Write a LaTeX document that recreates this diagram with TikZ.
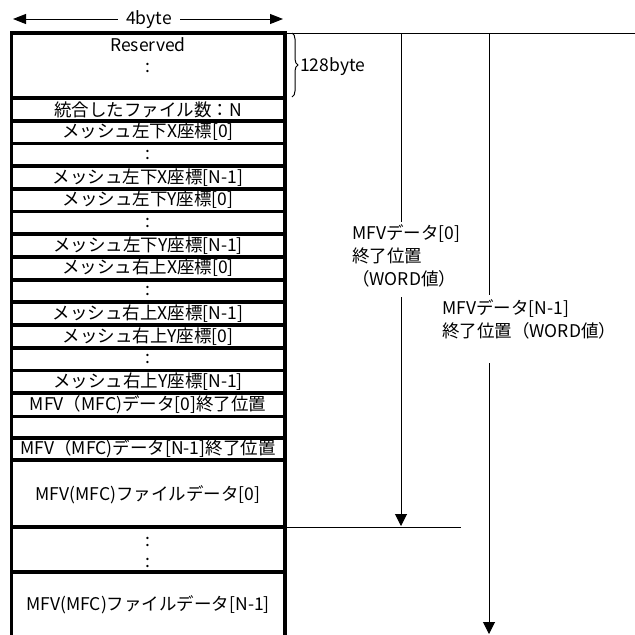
\documentclass[tikz,border=0pt]{standalone}
\usepackage{fontspec}
\setmainfont{Noto Sans CJK JP}
\usetikzlibrary{arrows.meta,decorations.pathreplacing}
\begin{document}
\begin{tikzpicture}[x=1pt,y=-1pt,
  frame/.style={line width=3.8pt},
  thinline/.style={line width=1pt},
  cell/.style={inner sep=0pt, font=\fontsize{17.5}{20}\selectfont},
  lab/.style={inner sep=0pt, align=left, anchor=west, font=\fontsize{17.5}{23}\selectfont},
  tip/.style={-{Triangle[length=12pt,width=12pt]}},
  toptip/.style={-{Triangle[length=13pt,width=10pt]}}
]
\useasboundingbox (0,0) rectangle (635,635);
% frame
\draw[frame] (11.5,635) -- (11.5,33) -- (285,33) -- (285,635);
\foreach \y in {98,120.7,143.4,166.1,188.8,211.5,234.2,256.9,279.6,302.3,325,347.7,370.4,393.1,416.5,438,460,527,572}
  \draw[frame] (11.5,\y) -- (285,\y);
% cells
\node[cell] (c1a) at (148,45) {Reserved};
\node[cell] (c1b) at (148,68) {:};
\node[cell] (c2) at (148,109.5) {統合したファイル数：N};
\node[cell] (c3) at (148,132) {メッシュ左下X座標[0]};
\node[cell] (c4) at (148,154.5) {:};
\node[cell] (c5) at (148,177.5) {メッシュ左下X座標[N-1]};
\node[cell] (c6) at (148,200) {メッシュ左下Y座標[0]};
\node[cell] (c7) at (148,223) {:};
\node[cell] (c8) at (148,245.5) {メッシュ左下Y座標[N-1]};
\node[cell] (c9) at (148,268) {メッシュ右上X座標[0]};
\node[cell] (c10) at (148,291) {:};
\node[cell] (c11) at (148,313.5) {メッシュ右上X座標[N-1]};
\node[cell] (c12) at (148,336.5) {メッシュ右上Y座標[0]};
\node[cell] (c13) at (148,359) {:};
\node[cell] (c14) at (148,381.5) {メッシュ右上Y座標[N-1]};
\node[cell] (c15) at (148,405) {MFV（MFC)データ[0]終了位置};
\node[cell] (c17) at (148,449) {MFV（MFC)データ[N-1]終了位置};
\node[cell] (c18) at (148,495) {MFV(MFC)ファイルデータ[0]};
\node[cell] (c19a) at (148,542) {:};
\node[cell] (c19b) at (148,563) {:};
\node[cell] (c20) at (148,605) {MFV(MFC)ファイルデータ[N-1]};
% width arrow
\coordinate (aL) at (13,19);
\coordinate (aR) at (283,19);
\node[cell, inner xsep=8pt] (w) at (149,20) {4byte};
\draw[thinline,toptip] (w.west |- aL) -- (aL);
\draw[thinline,toptip] (w.east |- aR) -- (aR);
% brace
\draw[thinline,decorate,decoration={brace,amplitude=6pt}] (292,33) -- (292,97);
\node[cell, anchor=west] (b) at (300,67) {128byte};
% right lines
\coordinate (tr) at (287,33);
\coordinate (te) at (635,33);
\draw[thinline] (tr) -- (te);
\coordinate (t1) at (401,33);
\coordinate (g1a) at (401,222);
\coordinate (g1b) at (401,297);
\coordinate (e1) at (401,526);
\coordinate (hL) at (287,527);
\coordinate (hR) at (461,527);
\draw[thinline] (t1) -- (g1a);
\draw[thinline,tip] (g1b) -- (e1);
\draw[thinline] (hL) -- (hR);
\node[lab] (lab1) at (352,256) {MFVデータ[0]\\終了位置\\（WORD値）};
\coordinate (t2) at (489,33);
\coordinate (g2a) at (489,295);
\coordinate (g2b) at (489,363);
\coordinate (e2) at (489,634);
\draw[thinline] (t2) -- (g2a);
\draw[thinline,tip] (g2b) -- (e2);
\node[lab] (lab2) at (442,319) {MFVデータ[N-1]\\終了位置（WORD値）};
\end{tikzpicture}
\end{document}
